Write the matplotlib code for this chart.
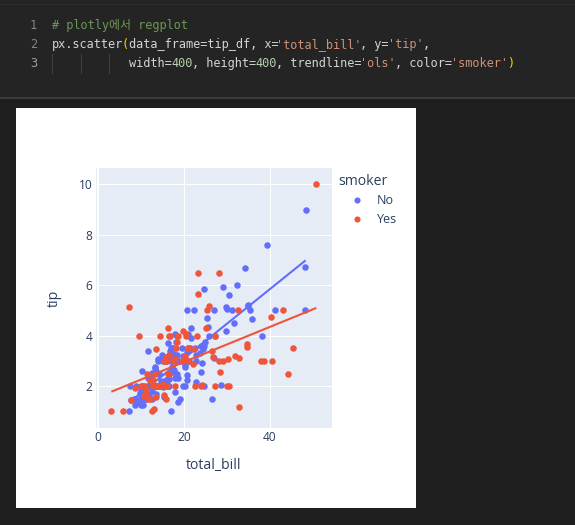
import matplotlib
matplotlib.use('Agg')
import matplotlib.pyplot as plt
from matplotlib.patches import Rectangle
from matplotlib.lines import Line2D
import numpy as np

# 데이터: tips (smoker = No / Yes)
no_bill = [16.99, 10.34, 21.01, 23.68, 24.59, 25.29, 8.77, 26.88, 15.04, 14.78,
           10.27, 35.26, 15.42, 18.43, 14.83, 21.58, 10.33, 16.29, 16.97, 20.65,
           17.92, 20.29, 15.77, 39.42, 19.82, 17.81, 13.37, 12.69, 21.70, 19.65,
           9.55, 18.35, 15.06, 20.69, 17.78, 24.06, 16.31, 16.93, 18.69, 31.27,
           16.04, 17.46, 13.94, 9.68, 30.40, 18.29, 22.23, 32.40, 28.55, 18.04,
           12.54, 10.29, 34.81, 9.94, 25.56, 19.49, 26.41, 48.27, 17.59, 20.08,
           16.45, 20.23, 12.02, 17.07, 14.73, 10.51, 27.20, 22.76, 17.29, 16.66,
           10.07, 15.98, 34.83, 13.03, 18.28, 24.71, 21.16, 22.49, 22.75, 12.46,
           20.92, 18.24, 14.00, 7.25, 38.07, 23.95, 25.71, 17.31, 29.93, 10.65,
           12.43, 24.08, 11.69, 13.42, 14.26, 15.95, 12.48, 29.80, 8.52, 14.52,
           11.38, 22.82, 19.08, 20.27, 11.17, 12.26, 18.26, 8.51, 10.33, 14.15,
           13.16, 17.47, 34.30, 41.19, 27.05, 16.43, 8.35, 18.64, 11.87, 9.78,
           7.51, 14.07, 13.13, 17.26, 24.55, 19.77, 29.85, 48.17, 25.00, 13.39,
           16.49, 21.50, 12.66, 16.21, 13.81, 24.52, 20.76, 31.71, 20.69, 7.56,
           48.33, 15.98, 20.45, 13.28, 11.61, 10.77, 10.07, 35.83, 29.03, 17.82,
           18.78]
no_tip = [1.01, 1.66, 3.50, 3.31, 3.61, 4.71, 2.00, 3.12, 1.96, 3.23,
          1.71, 5.00, 1.57, 3.00, 3.02, 3.92, 1.67, 3.71, 3.50, 3.35,
          4.08, 2.75, 2.23, 7.58, 3.18, 2.34, 2.00, 2.00, 4.30, 3.00,
          1.45, 2.50, 3.00, 2.45, 3.27, 3.60, 2.00, 3.07, 2.31, 5.00,
          2.24, 2.54, 3.06, 1.32, 5.60, 3.00, 5.00, 6.00, 2.05, 3.00,
          2.50, 2.60, 5.20, 1.56, 4.34, 3.51, 1.50, 6.73, 2.64, 3.15,
          2.47, 2.01, 1.97, 3.00, 2.20, 1.25, 4.00, 3.00, 2.71, 3.40,
          1.83, 2.03, 5.17, 2.00, 4.00, 5.85, 3.00, 3.50, 3.25, 1.50,
          4.08, 3.76, 3.00, 1.00, 4.00, 2.55, 4.00, 3.50, 5.07, 1.50,
          1.80, 2.92, 2.31, 1.68, 2.50, 2.00, 2.52, 4.20, 1.48, 2.00,
          2.00, 2.18, 1.50, 2.83, 1.50, 2.00, 3.25, 1.25, 2.00, 2.00,
          2.75, 3.50, 6.70, 5.00, 5.00, 2.30, 1.50, 1.36, 1.63, 1.73,
          2.00, 2.50, 2.00, 2.74, 2.00, 2.00, 5.14, 5.00, 3.75, 2.61,
          2.00, 3.50, 2.50, 2.00, 2.00, 3.48, 2.24, 4.50, 5.00, 1.44,
          9.00, 3.00, 3.00, 2.72, 3.39, 1.47, 1.25, 4.67, 5.92, 1.75,
          3.00]

yes_bill = [38.01, 11.24, 20.29, 13.81, 11.02, 18.29, 3.07, 15.01, 26.86, 25.28,
            17.92, 19.44, 32.68, 28.97, 5.75, 16.32, 40.17, 27.28, 12.03, 21.01,
            11.35, 15.38, 44.30, 22.42, 15.36, 20.49, 25.21, 14.31, 16.00, 17.51,
            10.59, 10.63, 50.81, 15.81, 7.25, 31.85, 16.82, 32.90, 17.89, 14.48,
            9.60, 34.63, 34.65, 23.33, 45.35, 23.17, 40.55, 20.90, 30.46, 18.15,
            23.10, 15.69, 19.81, 28.44, 15.48, 16.58, 10.34, 43.11, 13.00, 13.51,
            18.71, 12.74, 13.00, 16.40, 20.53, 16.47, 26.59, 38.73, 24.27, 12.76,
            30.06, 25.89, 13.27, 28.17, 12.90, 28.15, 11.59, 7.74, 30.14, 12.16,
            13.42, 8.58, 13.42, 16.27, 10.09, 22.12, 24.01, 15.69, 15.53, 12.60,
            32.83, 27.18, 22.67]
yes_tip = [3.00, 1.76, 3.21, 2.00, 1.98, 3.76, 1.00, 2.09, 3.14, 5.00,
           3.08, 3.00, 5.00, 3.00, 1.00, 4.30, 4.73, 4.00, 1.50, 3.00,
           2.50, 3.00, 2.50, 3.48, 1.64, 4.06, 4.29, 4.00, 2.00, 3.00,
           1.61, 2.00, 10.00, 3.16, 5.15, 3.18, 4.00, 3.11, 2.00, 2.00,
           4.00, 3.55, 3.68, 5.65, 3.50, 6.50, 3.00, 3.50, 2.00, 3.50,
           4.00, 1.50, 4.19, 2.56, 2.02, 4.00, 2.00, 5.00, 2.00, 2.00,
           4.00, 2.01, 2.00, 2.50, 4.00, 3.23, 3.41, 3.00, 2.03, 2.23,
           2.00, 5.16, 2.50, 6.50, 1.10, 3.00, 1.50, 1.44, 3.09, 2.20,
           3.48, 1.92, 1.58, 2.50, 2.00, 2.88, 2.00, 3.00, 3.00, 1.00,
           1.17, 2.00, 2.00]

groups = ['No', 'Yes']
colors = ['#636efa', '#ef553b']
x_ticks = [0, 20, 40]
y_ticks = [2, 4, 6, 8, 10]

# 코드 셀 내용 (토큰, 색상)
code_lines = [
    [('px.scatter', 'txt'), ('(', 'br'), ('data_frame=tip_df, x=', 'txt'),
     ("'total_bill'", 'str'), (', y=', 'txt'), ("'tip'", 'str'), (',', 'txt')],
    [('width=', 'txt'), ('400', 'num'), (', height=', 'txt'), ('400', 'num'),
     (', trendline=', 'txt'), ("'ols'", 'str'), (', color=', 'txt'),
     ("'smoker'", 'str'), (')', 'br')],
]
code_colors = {'txt': '#d4d4d4', 'br': '#ffd700', 'str': '#ce9178', 'num': '#b5cea8'}

W, H = 575, 525
fig = plt.figure(figsize=(W / 100, H / 100), dpi=100, facecolor='#1f1f1f')


def fx(px):
    return px / W


def fy(py):
    return 1 - py / H


def rect(x0, y0, x1, y1, color):
    fig.patches.append(Rectangle((fx(x0), fy(y1)), fx(x1) - fx(x0), fy(y0) - fy(y1),
                                 transform=fig.transFigure, facecolor=color,
                                 edgecolor='none', zorder=-10))


# 에디터 영역
rect(0, 0, W, 97, '#242424')
rect(0, 4, W, 5, '#2e2e2e')
rect(0, 97, W, 98.5, '#3b3b3b')
rect(16, 108, 416, 508, 'white')

mono = 'DejaVu Sans Mono'
cw = 7.0
fs_code = 8.6
code_x0 = 52
line_y = [25.5, 44.5, 63.5]
num_colors = ['#858585', '#858585', '#a0a0a0']
for i, y in enumerate(line_y):
    fig.text(fx(37), fy(y), str(i + 1), color=num_colors[i], family=mono,
             fontsize=fs_code, ha='right', va='center')

fig.text(fx(code_x0), fy(line_y[0]), '# plotly에서 regplot', color='#6a9955',
         family=[mono, 'Noto Sans CJK KR'], fontsize=fs_code, va='center')

for row, tokens in enumerate(code_lines):
    col = 0 if row == 0 else 11
    for tok, kind in tokens:
        fig.text(fx(code_x0 + col * cw), fy(line_y[row + 1]), tok,
                 color=code_colors[kind], family=mono, fontsize=fs_code, va='center')
        col += len(tok)

# 들여쓰기 가이드
for gx in [52, 80.5, 108.5]:
    fig.add_artist(Line2D([fx(gx), fx(gx)], [fy(54), fy(73)], color='#404040',
                          lw=0.8, transform=fig.transFigure))

# plotly 스타일 산점도
left, right, top, bottom = 96, 331.7, 168.3, 427.7
ax = fig.add_axes([fx(left), fy(bottom), fx(right) - fx(left), fy(top) - fy(bottom)])
ax.set_zorder(1)
ax.set_facecolor('#e5ecf6')
for s in ax.spines.values():
    s.set_visible(False)

font = 'Open Sans'
tcol = '#2a3f5f'
data = [(no_bill, no_tip), (yes_bill, yes_tip)]
for (bx, ty), c in zip(data, colors):
    bx = np.array(bx)
    ty = np.array(ty)
    ax.scatter(bx, ty, s=22, color=c, linewidths=0, zorder=3)
    k, b = np.polyfit(bx, ty, 1)
    xs = np.array([bx.min(), bx.max()])
    ax.plot(xs, k * xs + b, color=c, lw=1.5, zorder=3, solid_capstyle='butt')

ax.set_xlim(-0.5, 54.4)
ax.set_ylim(0.35, 10.64)
ax.set_xticks(x_ticks)
ax.set_yticks(y_ticks)
ax.grid(True, color='white', lw=0.75, zorder=1)
ax.set_axisbelow(True)
ax.axvline(0, color='white', lw=1.5, zorder=2)
ax.tick_params(length=0, labelsize=8.64, labelcolor=tcol, pad=2.5)
for lab in ax.get_xticklabels() + ax.get_yticklabels():
    lab.set_family(font)
ax.set_xlabel('total_bill', family=font, fontsize=10.1, color=tcol, labelpad=10)
ax.set_ylabel('tip', family=font, fontsize=10.1, color=tcol, labelpad=12)

# 범례
fig.text(fx(338.5), fy(181), 'smoker', family=font, fontsize=10.1, color=tcol, va='center')
for i, (g, c) in enumerate(zip(groups, colors)):
    yy = 200 + i * 19.3
    fig.add_artist(Line2D([fx(356.7)], [fy(yy)], marker='o', markersize=4.4, color=c,
                          markeredgewidth=0, linestyle='none', transform=fig.transFigure))
    fig.text(fx(376.5), fy(yy), g, family=font, fontsize=9.0, color=tcol, va='center')

fig.savefig('out.png', dpi=100, facecolor=fig.get_facecolor())
plt.close(fig)
